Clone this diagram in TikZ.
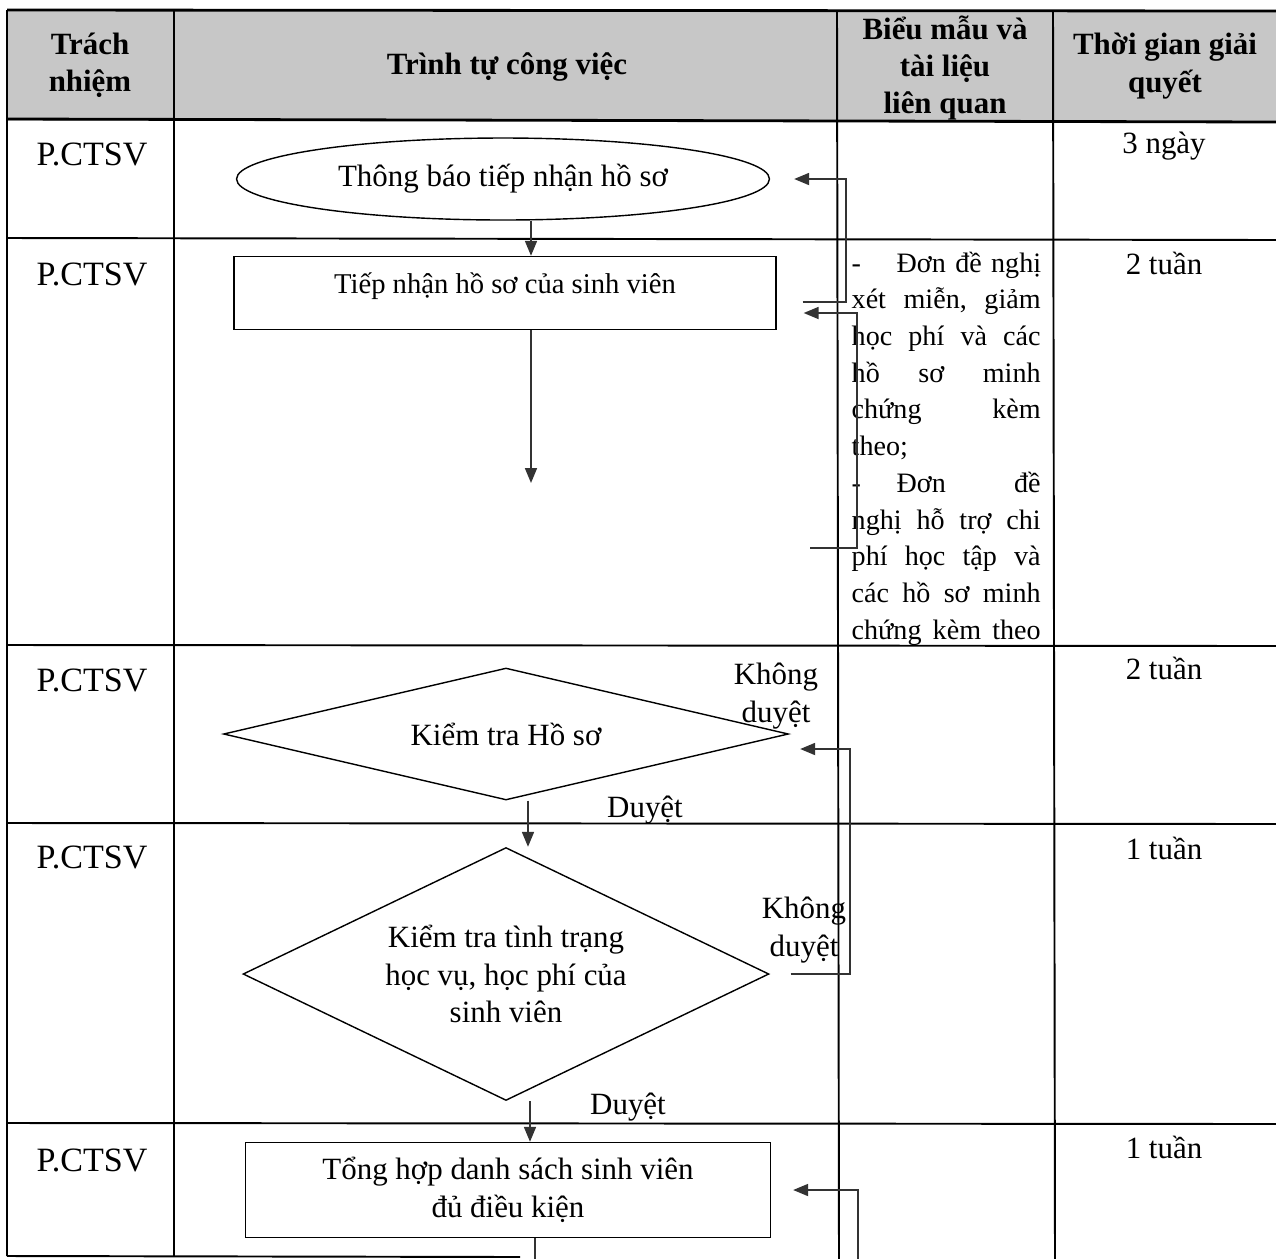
\documentclass[tikz,border=0pt]{standalone}
\usepackage{fontspec}
\setmainfont{Liberation Serif}
\usetikzlibrary{shapes.geometric,arrows.meta}

\begin{document}
\begin{tikzpicture}[x=0.02cm, y=-0.02cm, thick,
    main/.style = {draw, align=center, inner sep=0pt, font=\fontsize{17.6}{21.3}\selectfont},
    chu/.style = {align=center, font=\fontsize{17.6}{21.3}\selectfont},
    tieude/.style = {align=center, font=\fontsize{17.6}{21.3}\selectfont\bfseries},
    ke/.style = {line width=1.1pt},
    luong/.style = {-{Triangle[length=3mm, width=2.4mm]}, draw=black!80, line width=1pt}]

    \useasboundingbox (0,0) rectangle (1276,1259);

    % bang
    \fill[black!22] (7,10) rectangle (1276,121);
    \draw[line width=1.6pt] (7,10) -- (1276,11);
    \draw[line width=1.6pt] (7,119) -- (1276,122);
    \draw[ke] (7,10) -- (7,1256);
    \draw[ke] (174,10) -- (174,1256);
    \draw[ke] (837,10) -- (839,1259);
    \draw[ke] (1053,10) -- (1055,1259);
    \draw[ke] (7,238) -- (1276,240);
    \draw[ke] (7,645) -- (1276,646);
    \draw[ke] (7,823) -- (1276,824);
    \draw[ke] (7,1123) -- (1276,1124);
    \draw[ke] (7,1256) -- (520,1257);

    \node[tieude] (h1) at (90,65) {Trách\\nhiệm};
    \node[tieude] (h2) at (507,67) {Trình tự công việc};
    \node[tieude] (h3) at (945,68) {Biểu mẫu và\\tài liệu\\liên quan};
    \node[tieude] (h4) at (1165,66) {Thời gian giải\\quyết};

    \node[chu, font=\fontsize{19.4}{22}\selectfont] (p1) at (92,154) {P.CTSV};
    \node[chu, font=\fontsize{19.4}{22}\selectfont] (p2) at (92,274) {P.CTSV};
    \node[chu, font=\fontsize{19.4}{22}\selectfont] (p3) at (92,680) {P.CTSV};
    \node[chu, font=\fontsize{19.4}{22}\selectfont] (p4) at (92,857) {P.CTSV};
    \node[chu, font=\fontsize{19.4}{22}\selectfont] (p5) at (92,1160) {P.CTSV};

    \node[chu] (t1) at (1164,146) {3 ngày};
    \node[chu] (t2) at (1164,263) {2 tuần};
    \node[chu] (t3) at (1164,668) {2 tuần};
    \node[chu] (t4) at (1164,848) {1 tuần};
    \node[chu] (t5) at (1164,1147) {1 tuần};

    \node[anchor=north west, inner sep=0pt, text width=3.78cm, font=\fontsize{16}{20.9}\selectfont] (bm) at (851,251) {%
        \hbox to 3.78cm{\makebox[0.9cm][l]{-}\hfill Đơn đề nghị}
        \hbox to 3.78cm{xét\hfill\ miễn,\hfill\ giảm}
        \hbox to 3.78cm{học\hfill\ phí\hfill\ và\hfill\ các}
        \hbox to 3.78cm{hồ\hfill\ sơ\hfill\ minh}
        \hbox to 3.78cm{chứng\hfill\ kèm}
        \hbox to 3.78cm{theo;\hfill}
        \hbox to 3.78cm{\makebox[0.9cm][l]{-}Đơn\hfill\ đề}
        \hbox to 3.78cm{nghị\hfill\ hỗ\hfill\ trợ\hfill\ chi}
        \hbox to 3.78cm{phí\hfill\ học\hfill\ tập\hfill\ và}
        \hbox to 3.78cm{các\hfill\ hồ\hfill\ sơ\hfill\ minh}
        \hbox to 3.78cm{chứng\hfill\ kèm\hfill\ theo}};

    % luu do
    \node[main, ellipse, minimum width=10.66cm, minimum height=1.64cm] (1) at (503,179) {Thông báo tiếp nhận hồ sơ};
    \node[main, rectangle, minimum width=10.84cm, minimum height=1.46cm, text height=0.46cm, text depth=0.44cm,
        font=\fontsize{16.3}{20}\selectfont] (2) at (505,293) {Tiếp nhận hồ sơ của sinh viên};
    \node[main, diamond, aspect=4.28, minimum width=11.3cm, minimum height=2.64cm] (3) at (506,734) {Kiểm tra Hồ sơ};
    \node[main, diamond, aspect=2.08, minimum width=10.52cm, minimum height=5.06cm] (4) at (506,974) {Kiểm tra tình trạng\\học vụ, học phí của\\sinh viên};
    \node[main, rectangle, minimum width=10.5cm, minimum height=1.9cm] (5) at (508,1190) {Tổng hợp danh sách sinh viên\\đủ điều kiện};

    \node[chu] (k1) at (776,696) {Không\\duyệt};
    \node[chu] (d1) at (645,810) {Duyệt};
    \node[chu] (k2) at (804,930) {Không\\duyệt};
    \node[chu] (d2) at (628,1107) {Duyệt};

    \coordinate (6) at (535,1259);
    \coordinate (7) at (810,548);
    \coordinate (8) at (858,1259);
    \coordinate (9) at (531,483);

    \draw[luong] (1.south -| 9) -- (2.north -| 9);
    \draw[luong] (2.south -| 9) -- (9);
    \draw[luong] ([xshift=4.4mm]3.south) -- ([xshift=4.4mm]4.north);
    \draw[luong] ([xshift=4.8mm]4.south) -- ([xshift=4.4mm]5.north);
    \draw[draw=black!80, line width=1pt] (5.south -| 6) -- (6);

    \draw[luong] ([xshift=5.2mm,yshift=-1.8mm]2.east) -| ([xshift=15.2mm]1.east) -- ([xshift=4.8mm]1.east);
    \draw[luong] (7) -| ([xshift=16mm,yshift=-4mm]2.east) -- ([xshift=5.4mm,yshift=-4mm]2.east);
    \draw[luong] ([xshift=4.2mm]4.east) -| ([xshift=12.2mm,yshift=-3mm]3.east) -- ([xshift=2.2mm,yshift=-3mm]3.east);
    \draw[luong] (8) |- ([xshift=4.4mm]5.east);
\end{tikzpicture}
\end{document}
